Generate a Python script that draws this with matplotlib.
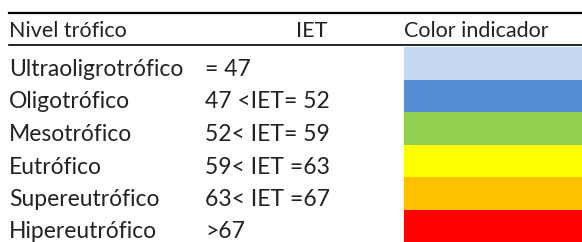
import matplotlib
matplotlib.use("Agg")
import matplotlib.pyplot as plt
from matplotlib.patches import Rectangle

niveles = ["Ultraoligrotrófico", "Oligotrófico", "Mesotrófico",
           "Eutrófico", "Supereutrófico", "Hipereutrófico"]
iet = ["= 47", "47 <IET= 52", "52< IET= 59", "59< IET =63", "63< IET =67", ">67"]
colores = ["#C5D9F1", "#558ED5", "#92D050", "#FFFF00", "#FFC000", "#FF0000"]
headers = ["Nivel trófico", "IET", "Color indicador"]

plt.rcParams["font.family"] = ["Lato", "DejaVu Sans"]
W, H = 582, 242
fig = plt.figure(figsize=(W / 100, H / 100), dpi=100)
ax = fig.add_axes([0, 0, 1, 1])
ax.set_xlim(0, W)
ax.set_ylim(H, 0)
ax.axis("off")

txt = "#222222"
fs_head, fs_row = 15.5, 16.5
col_x = [9, 205, 404]
top, head_bot = 13, 45
row0, row_h = 47, 32.5

# header
ax.plot([9, W], [top, top], color="black", lw=1.6)
ax.plot([9, W], [head_bot, head_bot], color="black", lw=1.2)
ax.text(col_x[0], 37, headers[0], fontsize=fs_head, color=txt, va="baseline")
ax.text(296, 37, headers[1], fontsize=fs_head, color=txt, va="baseline")
ax.text(col_x[2], 37, headers[2], fontsize=fs_head, color=txt, va="baseline")

for i, (n, v, c) in enumerate(zip(niveles, iet, colores)):
    y = row0 + i * row_h
    ax.add_patch(Rectangle((col_x[2], y), W - col_x[2], row_h, color=c, lw=0))
    ax.text(col_x[0], y + row_h - 3.5, n, fontsize=fs_row, color=txt, va="baseline")
    ax.text(col_x[1], y + row_h - 3.5, v, fontsize=fs_row, color=txt, va="baseline")

fig.savefig("out.png", dpi=100)
